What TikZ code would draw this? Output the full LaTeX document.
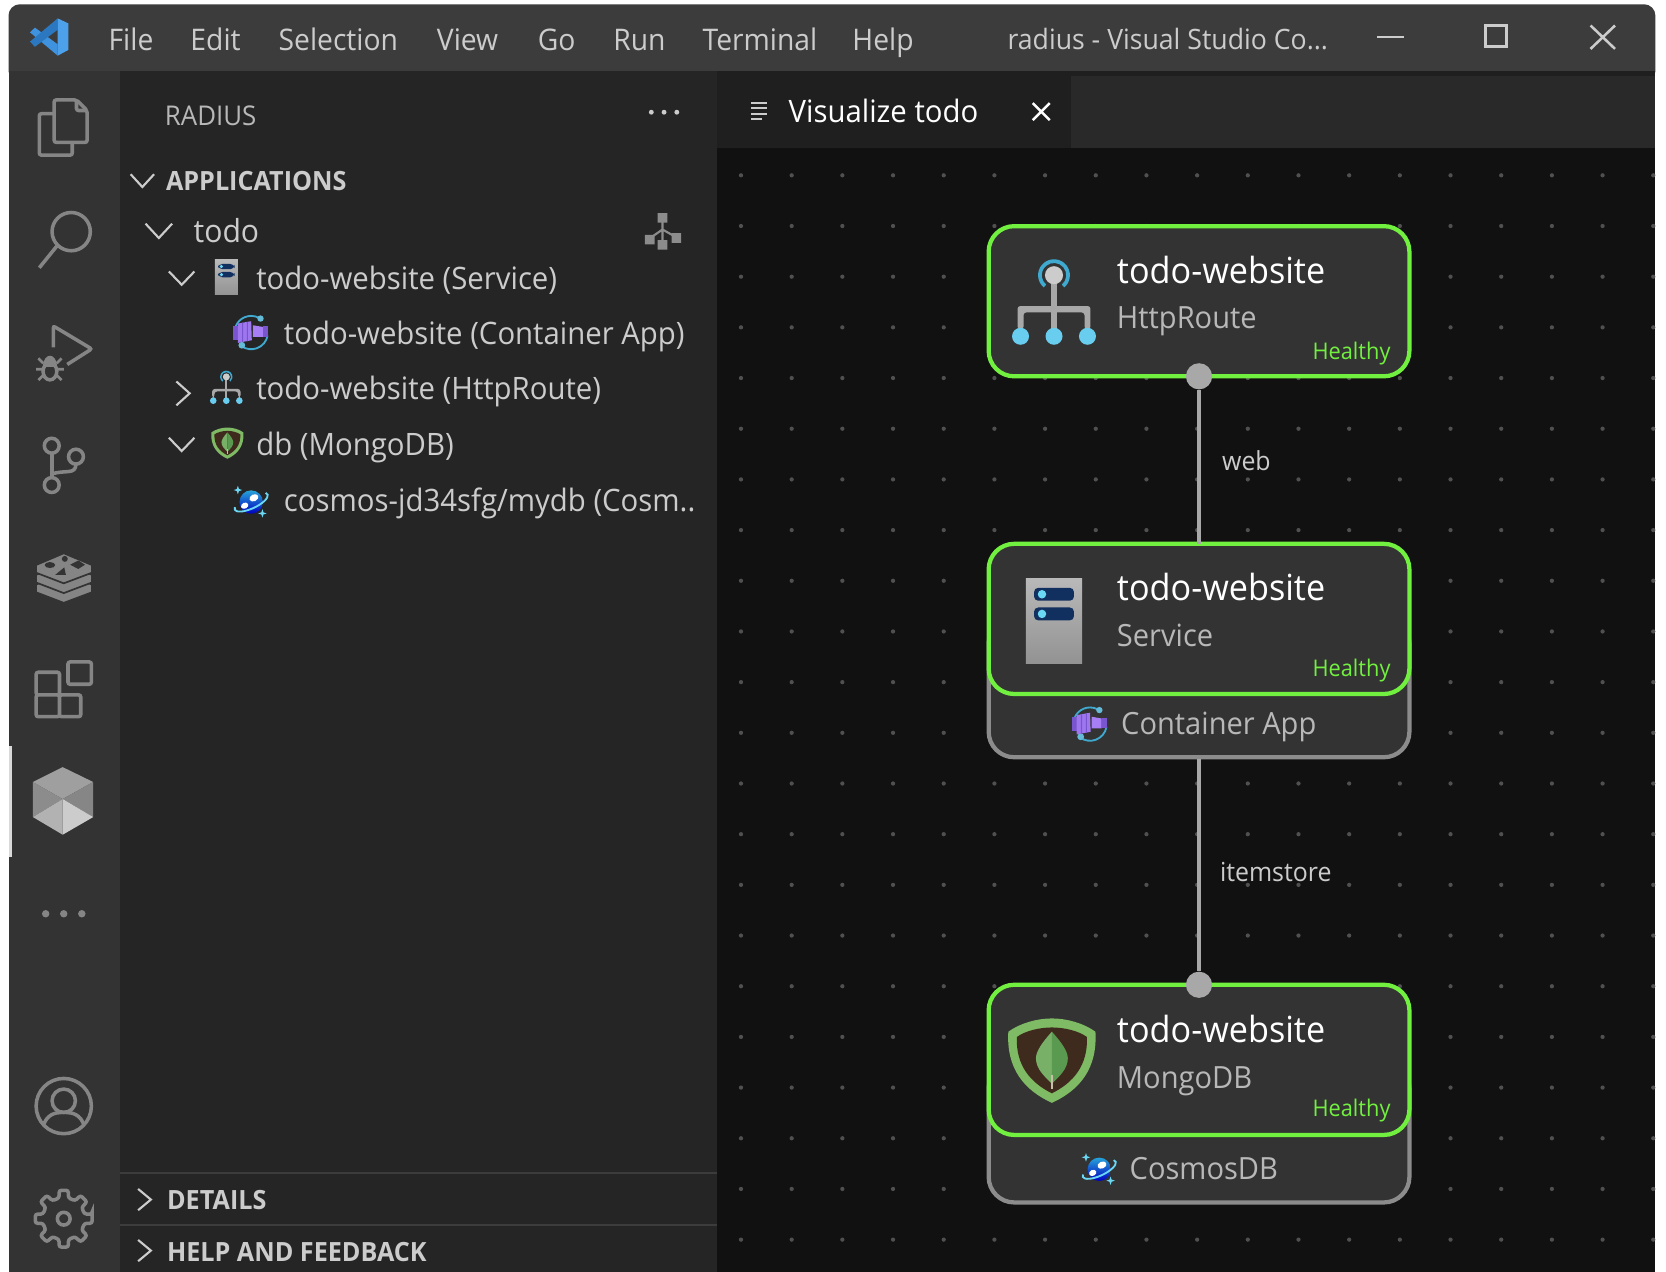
\documentclass[tikz,border=0pt]{standalone}
\usepackage{fontspec}
\setmainfont{Open Sans}[FakeStretch=0.95]
\usetikzlibrary{positioning,backgrounds}
\definecolor{titlebg}{HTML}{3C3C3C}
\definecolor{actbg}{HTML}{333333}
\definecolor{sidebg}{HTML}{252526}
\definecolor{tabbg}{HTML}{1F1F1F}
\definecolor{stripbg}{HTML}{292929}
\definecolor{canvasbg}{HTML}{111111}
\definecolor{griddot}{HTML}{505050}
\definecolor{actgray}{HTML}{858585}
\definecolor{healthy}{HTML}{72F03F}
\definecolor{hostline}{HTML}{8C8C8C}
\definecolor{wiregray}{HTML}{A8A8A8}
\definecolor{cardbg}{HTML}{333333}
\definecolor{menutext}{HTML}{CCCCCC}
\definecolor{subtext}{HTML}{B8B8B8}
\definecolor{skyblue}{HTML}{68CDEE}
\definecolor{ringblue}{HTML}{3FA9CF}
\definecolor{navybar}{HTML}{12305F}
\definecolor{ledblue}{HTML}{6AD8F5}
\definecolor{purplea}{HTML}{7A55D0}
\definecolor{purpleb}{HTML}{A77EF5}
\definecolor{mongoring}{HTML}{7FBA64}
\definecolor{mongodark}{HTML}{3F2B1D}
\definecolor{mongoleafa}{HTML}{78B068}
\definecolor{mongoleafb}{HTML}{5A9A50}
\definecolor{mongostem}{HTML}{C8BFA8}
\definecolor{vslight}{HTML}{4CA1EA}
\definecolor{vsmid}{HTML}{3E92DE}
\definecolor{vsdark}{HTML}{2C78C0}
\tikzset{
  menu/.style={font=\fontsize{21}{25}\selectfont,text=menutext,anchor=base west,inner sep=0pt},
  treerow/.style={font=\fontsize{21.8}{26}\selectfont,text=menutext,anchor=base west,inner sep=0pt},
  head/.style={font=\fontsize{18.7}{23}\selectfont\bfseries,text=menutext,anchor=base west,inner sep=0pt},
  cardtitle/.style={font=\fontsize{25.4}{30}\selectfont,text=white,anchor=base west,inner sep=0pt},
  cardsub/.style={font=\fontsize{21.6}{26}\selectfont,text=subtext,anchor=base west,inner sep=0pt},
  cardstate/.style={font=\fontsize{16.2}{20}\selectfont,text=healthy,anchor=base east,inner sep=0pt},
  edgelabel/.style={font=\fontsize{18.5}{23}\selectfont,text=menutext,anchor=west,inner sep=0pt},
  card/.style={draw=healthy,fill=cardbg,line width=3pt,rounded corners=18pt,outer sep=0pt,
    minimum width=297pt,minimum height=106pt,inner sep=0pt},
  hostbox/.style={draw=hostline,fill=cardbg,line width=3pt,rounded corners=18pt,
    minimum width=297pt,minimum height=98.5pt,inner sep=0pt},
  port/.style={circle,fill=wiregray,minimum size=18.5pt,inner sep=0pt},
  wire/.style={draw=wiregray,line width=2.6pt},
  acticon/.style={draw=actgray,line width=2.5pt,rounded corners=1.5pt},
  chev/.style={draw=menutext,line width=1.5pt},
  winbtn/.style={draw=menutext,line width=1.8pt},
  routeicon/.pic={
    \fill[wiregray] (-2.8,-29) rectangle (2.8,22);
    \fill[wiregray,rounded corners=2pt] (-34.3,22) -- (-34.3,0) -- (34.3,0) -- (34.3,22)
      -- (28.7,22) -- (28.7,6) -- (-28.7,6) -- (-28.7,22) -- cycle;
    \foreach \ballx in {-31.5,0,31.5}
      \fill[skyblue] (\ballx,28.5) circle (8);
    \fill[ringblue] ({15*cos(130)},{-29+15*sin(130)}) arc[start angle=130,end angle=410,radius=15]
      -- ({11.5*cos(410)},{-29+11.5*sin(410)}) arc[start angle=410,end angle=130,radius=11.5] -- cycle;
    \fill[gray!40!white] (0,-29) circle (8.5);
  },
  svcicon/.pic={
    \shade[top color=gray!55!white,bottom color=gray!85!white] (-26.4,-40) rectangle (26.4,40);
    \foreach \bary in {-24.7,-6.2}{
      \fill[navybar,rounded corners=3pt] (-18.8,\bary-6.1) rectangle (18.8,\bary+6.1);
      \fill[ledblue] (-11.3,\bary) circle (4);
    }
  },
  mongoicon/.pic={
    \fill[mongoring] (0,-39.5) .. controls (14,-39.5) and (30,-35) .. (41,-27)
      .. controls (43,8) and (26,28) .. (0,40) .. controls (-26,28) and (-43,8) .. (-41,-27)
      .. controls (-30,-35) and (-14,-39.5) .. (0,-39.5) -- cycle;
    \fill[mongodark] (0,-31) .. controls (11,-31) and (25,-28) .. (33,-22)
      .. controls (34,5) and (20,21) .. (0,31) .. controls (-20,21) and (-34,5) .. (-33,-22)
      .. controls (-25,-28) and (-11,-31) .. (0,-31) -- cycle;
    \fill[mongoleafa] (0,-27) .. controls (-10,-16) and (-15,-8) .. (-15,-2)
      .. controls (-15,8) and (-7,15) .. (0,22) -- cycle;
    \fill[mongoleafb] (0,-27) .. controls (10,-16) and (15,-8) .. (15,-2)
      .. controls (15,8) and (7,15) .. (0,22) -- cycle;
    \fill[mongostem] (-.8,14) rectangle (.8,27);
  },
  appicon/.pic={
    \draw[ringblue,line width=1.3pt] ({15.7*cos(180)},{15.7*sin(180)}) arc[start angle=180,end angle=300,radius=15.7];
    \draw[ringblue,line width=1.3pt] ({15.7*cos(10)},{15.7*sin(10)}) arc[start angle=10,end angle=125,radius=15.7];
    \fill[ringblue!80!white] (8.8,-13.2) circle (3);
    \fill[ringblue!80!white] (-8.8,11.9) circle (3.2);
    \fill[purplea] (-17,-6.3) -- (-12.5,-6.3) -- (-12.5,6.6) -- (-17,6.6) -- cycle;
    \fill[purpleb!80!purplea] (-12.5,-8.5) -- (0,-10.7) -- (.6,7.2) -- (-12.5,9.7) -- cycle;
    \fill[purplea] (-8.5,-9.2) -- (-7.5,-9.4) -- (-7.5,8.9) -- (-8.5,9) -- cycle;
    \fill[purplea] (-4,-10) -- (-3,-10.2) -- (-3,8) -- (-4,8.2) -- cycle;
    \fill[purpleb] (1.6,-6.9) -- (11,-5.3) -- (11,4) -- (1.6,4) -- cycle;
    \fill[purplea] (11,-6) -- (15.7,-6) -- (15.7,3.8) -- (11,3.8) -- cycle;
  },
  cosmosicon/.pic={
    \shade[top color=blue!30!cyan!70!gray,bottom color=blue!75!black] (0,0) circle (11);
    \fill[white,rotate=25] (-7,.5) ellipse (3.6 and 2.8);
    \fill[white,rotate=25] (4,-2.5) ellipse (4.4 and 3.2);
    \draw[ledblue,line width=1.3pt,rotate=25] ({17*cos(-20)},{6*sin(-20)}) arc[start angle=-20,end angle=200,x radius=17,y radius=6];
    \foreach \sparkx/\sparky in {-12.5/-11.3,10.6/10.7}
      \fill[ledblue] (\sparkx,\sparky-4) -- (\sparkx+1,\sparky-1) -- (\sparkx+4,\sparky)
        -- (\sparkx+1,\sparky+1) -- (\sparkx,\sparky+4) -- (\sparkx-1,\sparky+1)
        -- (\sparkx-4,\sparky) -- (\sparkx-1,\sparky-1) -- cycle;
  }
}
\begin{document}
\begin{tikzpicture}[x=.75pt,y=-.75pt,on grid,node distance=224.25pt]
  \useasboundingbox (0,0) rectangle (1568,1197);
  \begin{pgfonlayer}{background}
    \fill[white] (0,0) rectangle (1568,1197);
    \fill[titlebg] (8,68) [rounded corners=8pt] -- (8,4) -- (1558,4) [sharp corners] -- (1558,68) -- cycle;
    \fill[actbg] (8,67) rectangle (113,1197);
    \fill[sidebg] (113,67) rectangle (675,1197);
    \fill[tabbg] (675,67) rectangle (1558,139);
    \fill[stripbg] (1008,71.5) rectangle (1558,139);
    \fill[canvasbg] (675,139) rectangle (1558,1197);
    \foreach \dotx in {0,...,18}
      \foreach \doty in {0,...,21}
        \fill[griddot] (697.4+47.7*\dotx,165+47.7*\doty) circle (2);
  \end{pgfonlayer}

  % title bar
  \fill[vsmid] (54.3,52.4) -- (54.3,41.7) -- (32.9,26) -- (28.2,30.4) -- cycle;
  \fill[vsdark] (54.3,17.3) -- (54.3,28) -- (32.9,44) -- (28.2,39.2) -- cycle;
  \fill[vslight] (54.3,17.3) -- (64.3,22) -- (64.3,47) -- (54.3,52.4) -- cycle;
  \node[menu] (menu_file) at (102,47.5) {File};
  \node[menu] (menu_edit) at (179,47.5) {Edit};
  \node[menu] (menu_selection) at (262,47.5) {Selection};
  \node[menu] (menu_view) at (411,47.5) {View};
  \node[menu] (menu_go) at (506,47.5) {Go};
  \node[menu] (menu_run) at (577,47.5) {Run};
  \node[menu] (menu_terminal) at (661,47.5) {Terminal};
  \node[menu] (menu_help) at (802,47.5) {Help};
  \node[menu,font=\fontsize{19.8}{24}\selectfont] (win_title) at (948,47) {radius - Visual Studio Co...};
  \draw[winbtn] (1296,35) -- (1321,35);
  \draw[winbtn] (1398,24) rectangle (1418,44);
  \draw[winbtn] (1497,24) -- (1520,46) (1520,24) -- (1497,46);

  % activity bar
  \draw[acticon] (51,107) -- (37,107) -- (37,146) -- (68,146) -- (68,134);
  \draw[acticon] (72,94) -- (51,94) -- (51,134) -- (82,134) -- (82,104) -- cycle;
  \draw[acticon] (72,94) -- (72,104) -- (82,104);
  \draw[acticon] (67,218) circle (18);
  \draw[acticon] (54,231) -- (37,252);
  \draw[acticon] (50.2,327) -- (50.2,306.8) -- (86.3,328.4) -- (63.3,343);
  \draw[acticon] (47,349.5) ellipse (6.5 and 8);
  \fill[actgray] (40.5,345) .. controls (40.5,331) and (53.5,331) .. (53.5,345) -- cycle;
  \draw[acticon,line width=1.9pt] (36.1,337.3) -- (40.8,341.9) (58,337.3) -- (53.3,341.9)
    (33.9,347.6) -- (40.8,347.6) (53.3,347.6) -- (60.2,347.6)
    (36.1,357.7) -- (40.8,353) (58,357.7) -- (53.3,353);
  \draw[acticon] (48.7,419.5) circle (7) (48.7,456.5) circle (7) (71.5,429.8) circle (7);
  \draw[acticon] (48.7,427) -- (48.7,449.5);
  \draw[acticon] (48.7,446) .. controls (62,442) and (71,447) .. (71.5,437);
  \foreach \stacky in {18.4,9.2,0}
    \fill[actgray,draw=actbg,line width=1.2pt] (33.9,531.8+\stacky) -- (60,520.7+\stacky) -- (86.6,531.8+\stacky)
      -- (86.6,539+\stacky) -- (60,549+\stacky) -- (33.9,539+\stacky) -- cycle;
  \fill[actbg] (47,531.8) ellipse (5 and 2.8);
  \fill[actbg] (73.7,527.5) -- (80,531.5) -- (73.7,535.5) -- (66,531.5) -- cycle;
  \fill[actbg] (60.5,534) -- (62,541) -- (52,541) -- cycle;
  \fill[actbg] (61,526) circle (2.8);
  \draw[acticon] (34,632.7) rectangle (56,654) (34,654) rectangle (56,674.5) (56,654) rectangle (76,674.5);
  \draw[acticon] (64,623) rectangle (86,644);
  \fill[white!85!black] (8.6,702) rectangle (11.7,807);
  \fill[gray!75!white] (59,722) -- (87.7,736) -- (59,752) -- (31,736) -- cycle;
  \fill[gray!90!white] (31,736) -- (59,752) -- (31,769) -- cycle;
  \fill[gray!95!white] (87.7,736) -- (59,752) -- (87.7,769) -- cycle;
  \fill[gray!60!white] (31,769) -- (59,752) -- (59,785.6) -- cycle;
  \fill[gray!40!white] (87.7,769) -- (59,752) -- (59,785.6) -- cycle;
  \foreach \morex in {43,60,77}
    \fill[actgray] (\morex,860) circle (3.5);
  \draw[acticon] (60,1041) circle (26);
  \draw[acticon] (60,1036) circle (11);
  \draw[acticon] (41,1059) .. controls (44,1049) and (52,1047) .. (60,1047) .. controls (68,1047) and (76,1049) .. (79,1059);
  \draw[acticon,shift={(60,1147)}] (-9:27) \foreach \gearang in {0,45,...,315}
    { -- (\gearang-9:27) -- (\gearang+9:27) -- (\gearang+13:20) -- (\gearang+32:20) } -- cycle;
  \draw[acticon] (60,1147) circle (6);

  % side bar
  \node[treerow,font=\fontsize{19.2}{23}\selectfont,text=subtext] (side_title) at (155,118) {RADIUS};
  \foreach \morex in {613,625,637}
    \fill[menutext] (\morex,105.6) circle (2.3);
  \node[head] (sec_apps) at (156,179.6) {APPLICATIONS};
  \draw[chev] (123,164) -- (134,176) -- (145,164);
  \node[treerow,font=\fontsize{22.4}{27}\selectfont] (row_todo) at (182,228) {todo};
  \draw[chev] (137,210.5) -- (149.5,224) -- (162,210.5);
  \fill[gray!90!white] (619,200.5) rectangle (628,209.5) (607,221) rectangle (616,230) (619,226) rectangle (628,235) (632,219.5) rectangle (641,228.5);
  \draw[gray!90!white,line width=1.5pt] (623.5,209) -- (623.5,226) (623.5,216) -- (612,224) (623.5,216) -- (636,223);
  \node[treerow] (row_svc) at (241,272) {todo-website (Service)};
  \draw[chev] (159,255.5) -- (171,268) -- (183,255.5);
  \pic[scale=.41] at (213,261) {svcicon};
  \node[treerow] (row_app) at (267,324) {todo-website (Container App)};
  \pic at (236.4,313) {appicon};
  \node[treerow] (row_route) at (241,375.7) {todo-website (HttpRoute)};
  \draw[chev] (166,359) -- (178.5,370.2) -- (166,381.5);
  \pic[scale=.39] at (213,366) {routeicon};
  \node[treerow] (row_db) at (241,428.7) {db (MongoDB)};
  \draw[chev] (159,412) -- (171,424.5) -- (183,412);
  \pic[scale=.37] at (214,417) {mongoicon};
  \node[treerow] (row_cosmos) at (267,481) {cosmos-jd34sfg/mydb (Cosm..};
  \pic at (236.4,472.5) {cosmosicon};
  \draw[titlebg,line width=1.5pt] (113,1104) -- (675,1104) (113,1153) -- (675,1153);
  \node[head] (sec_details) at (157,1138) {DETAILS};
  \draw[chev] (130,1119) -- (142,1129) -- (130,1139);
  \node[head] (sec_help) at (157,1187) {HELP AND FEEDBACK};
  \draw[chev] (130,1167) -- (142,1177) -- (130,1187);

  % editor tab
  \draw[menutext,line width=1.4pt] (707,97) -- (722,97) (707,102) -- (722,102) (707,107) -- (722,107) (707,112) -- (717,112);
  \node[cardtitle,font=\fontsize{21.8}{27}\selectfont] (tab_label) at (742,115) {Visualize todo};
  \draw[white,line width=1.8pt] (972,97) -- (988,113) (988,97) -- (972,113);

  % cards
  \node[card] (card_route) at (1128.5,283.5) {};
  \node[card] (card_svc) [below=of card_route] {};
  \node[card] (card_mongo) [below=311.25pt of card_svc] {};
  \begin{pgfonlayer}{background}
    \node[hostbox] (host_svc) [below=48.4pt of card_svc] {};
    \node[hostbox] (host_mongo) [below=51.4pt of card_mongo] {};
  \end{pgfonlayer}
  \node[port] (port_route) at (card_route.south) {};
  \node[port] (port_mongo) at (card_mongo.north) {};
  \pic at (992,288) {routeicon};
  \pic at (992,584) {svcicon};
  \pic at (990,998) {mongoicon};
  \foreach \nm/\sub/\yy/\stt in {route/HttpRoute/266.5/338,svc/Service/565.5/637,mongo/MongoDB/981.5/1051}{
    \node[cardtitle] (\nm_title) at (1051,\yy) {todo-website};
    \node[cardsub] (\nm_sub) at (1051,\yy+43) {\sub};
    \node[cardstate] (\nm_state) at (1309,\stt) {Healthy};
  }
  \pic at (1025.9,681.5) {appicon};
  \node[cardsub] (host_svc_label) at (1055,691) {Container App};
  \pic at (1034.6,1100.5) {cosmosicon};
  \node[cardsub] (host_mongo_label) at (1063,1110) {CosmosDB};
  \path[wire]
    (port_route) edge node[edgelabel,xshift=15pt,pos=.46] {web} (card_svc)
    (host_svc) edge node[edgelabel,xshift=13.5pt,pos=.53] {itemstore} (port_mongo)
    ;
\end{tikzpicture}
\end{document}
